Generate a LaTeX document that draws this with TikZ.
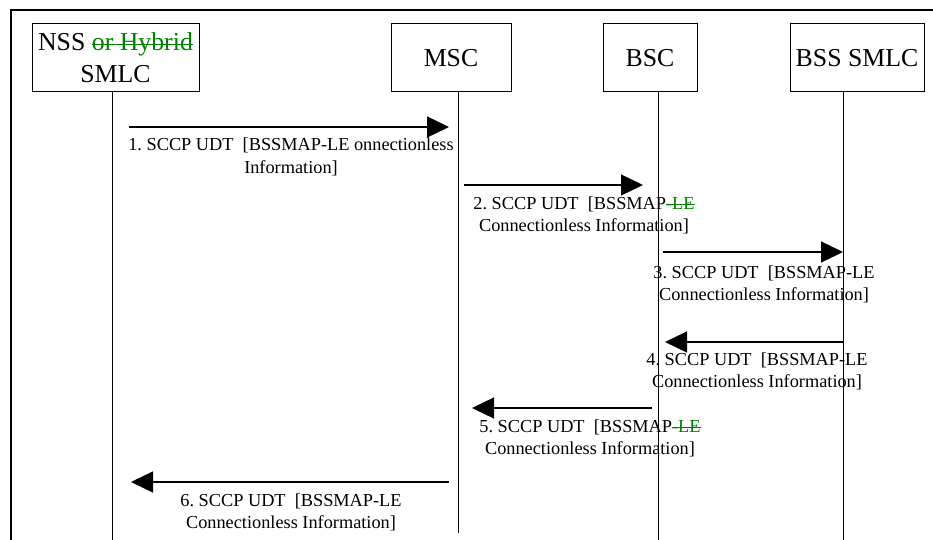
\documentclass[tikz,border=0pt]{standalone}
\usepackage{fontspec}
\setmainfont{Liberation Serif}
\usetikzlibrary{arrows.meta}
\frenchspacing
\definecolor{strkgreen}{RGB}{0,128,0}
\newsavebox\strkbox
\newcommand\strk[1]{\sbox\strkbox{#1}\textcolor{strkgreen}{\rlap{\rule[0.22em]{\wd\strkbox}{0.06em}}#1}}
\tikzset{
  entity/.style={draw, line width=1pt, minimum height=68pt, inner sep=0pt, align=center, font=\fontsize{25.8}{32}\selectfont},
  life/.style={line width=1pt},
  msg/.style={line width=1.3pt, -{Triangle[length=22pt,width=21pt]}},
  lbl/.style={inner sep=0pt, align=center, anchor=base, font=\fontsize{18.3}{22}\selectfont\frenchspacing},
}
\begin{document}
\begin{tikzpicture}[x=1pt,y=-1pt]
\useasboundingbox (0,0) rectangle (933,540);
% frame
\draw[line width=1.5pt] (11,540) -- (11,10) -- (933,10);
% entities
\node[entity, minimum width=167pt] (nss) at (115.5,58) {NSS \strk{or Hybrid}\\SMLC};
\node[entity, minimum width=120pt] (msc) at (451,58) {MSC};
\node[entity, minimum width=94pt] (bsc) at (650,58) {BSC};
\node[entity, minimum width=134pt] (smlc) at (857,58) {BSS SMLC};
% lifeline ends
\coordinate (nssE) at (112,540);
\coordinate (mscE) at (458,533);
\coordinate (bscE) at (658,540);
\coordinate (smlcE) at (843,540);
\draw[life] (112,92) -- (nssE);
\draw[life] (458,92) -- (mscE);
\draw[life] (658,92) -- (bscE);
\draw[life] (843,92) -- (smlcE);
% message endpoints
\coordinate (m1s) at (129,127); \coordinate (m1e) at (449,127);
\coordinate (m2s) at (464,185); \coordinate (m2e) at (643,185);
\coordinate (m3s) at (663,252); \coordinate (m3e) at (843,252);
\coordinate (m4s) at (843,342); \coordinate (m4e) at (665,342);
\coordinate (m5s) at (652,408); \coordinate (m5e) at (472,408);
\coordinate (m6s) at (449,482); \coordinate (m6e) at (131,482);
\draw[msg] (m1s) -- (m1e);
\draw[msg] (m2s) -- (m2e);
\draw[msg] (m3s) -- (m3e);
\draw[msg] (m4s) -- (m4e);
\draw[msg] (m5s) -- (m5e);
\draw[msg] (m6s) -- (m6e);
% labels (base anchor = last line baseline)
\node[lbl] (l1) at (291,173) {1. SCCP UDT~ [BSSMAP-LE onnectionless\\Information]};
\node[lbl] (l2) at (584,231) {2. SCCP UDT~ [BSSMAP\strk{-LE}\\Connectionless Information]};
\node[lbl] (l3) at (764,300) {3. SCCP UDT~ [BSSMAP-LE\\Connectionless Information]};
\node[lbl] (l4) at (757,387) {4. SCCP UDT~ [BSSMAP-LE\\Connectionless Information]};
\node[lbl] (l5) at (590,454) {5. SCCP UDT~ [BSSMAP\strk{-LE}\\Connectionless Information]};
\node[lbl] (l6) at (291,528) {6. SCCP UDT~ [BSSMAP-LE\\Connectionless Information]};
\end{tikzpicture}
\end{document}
